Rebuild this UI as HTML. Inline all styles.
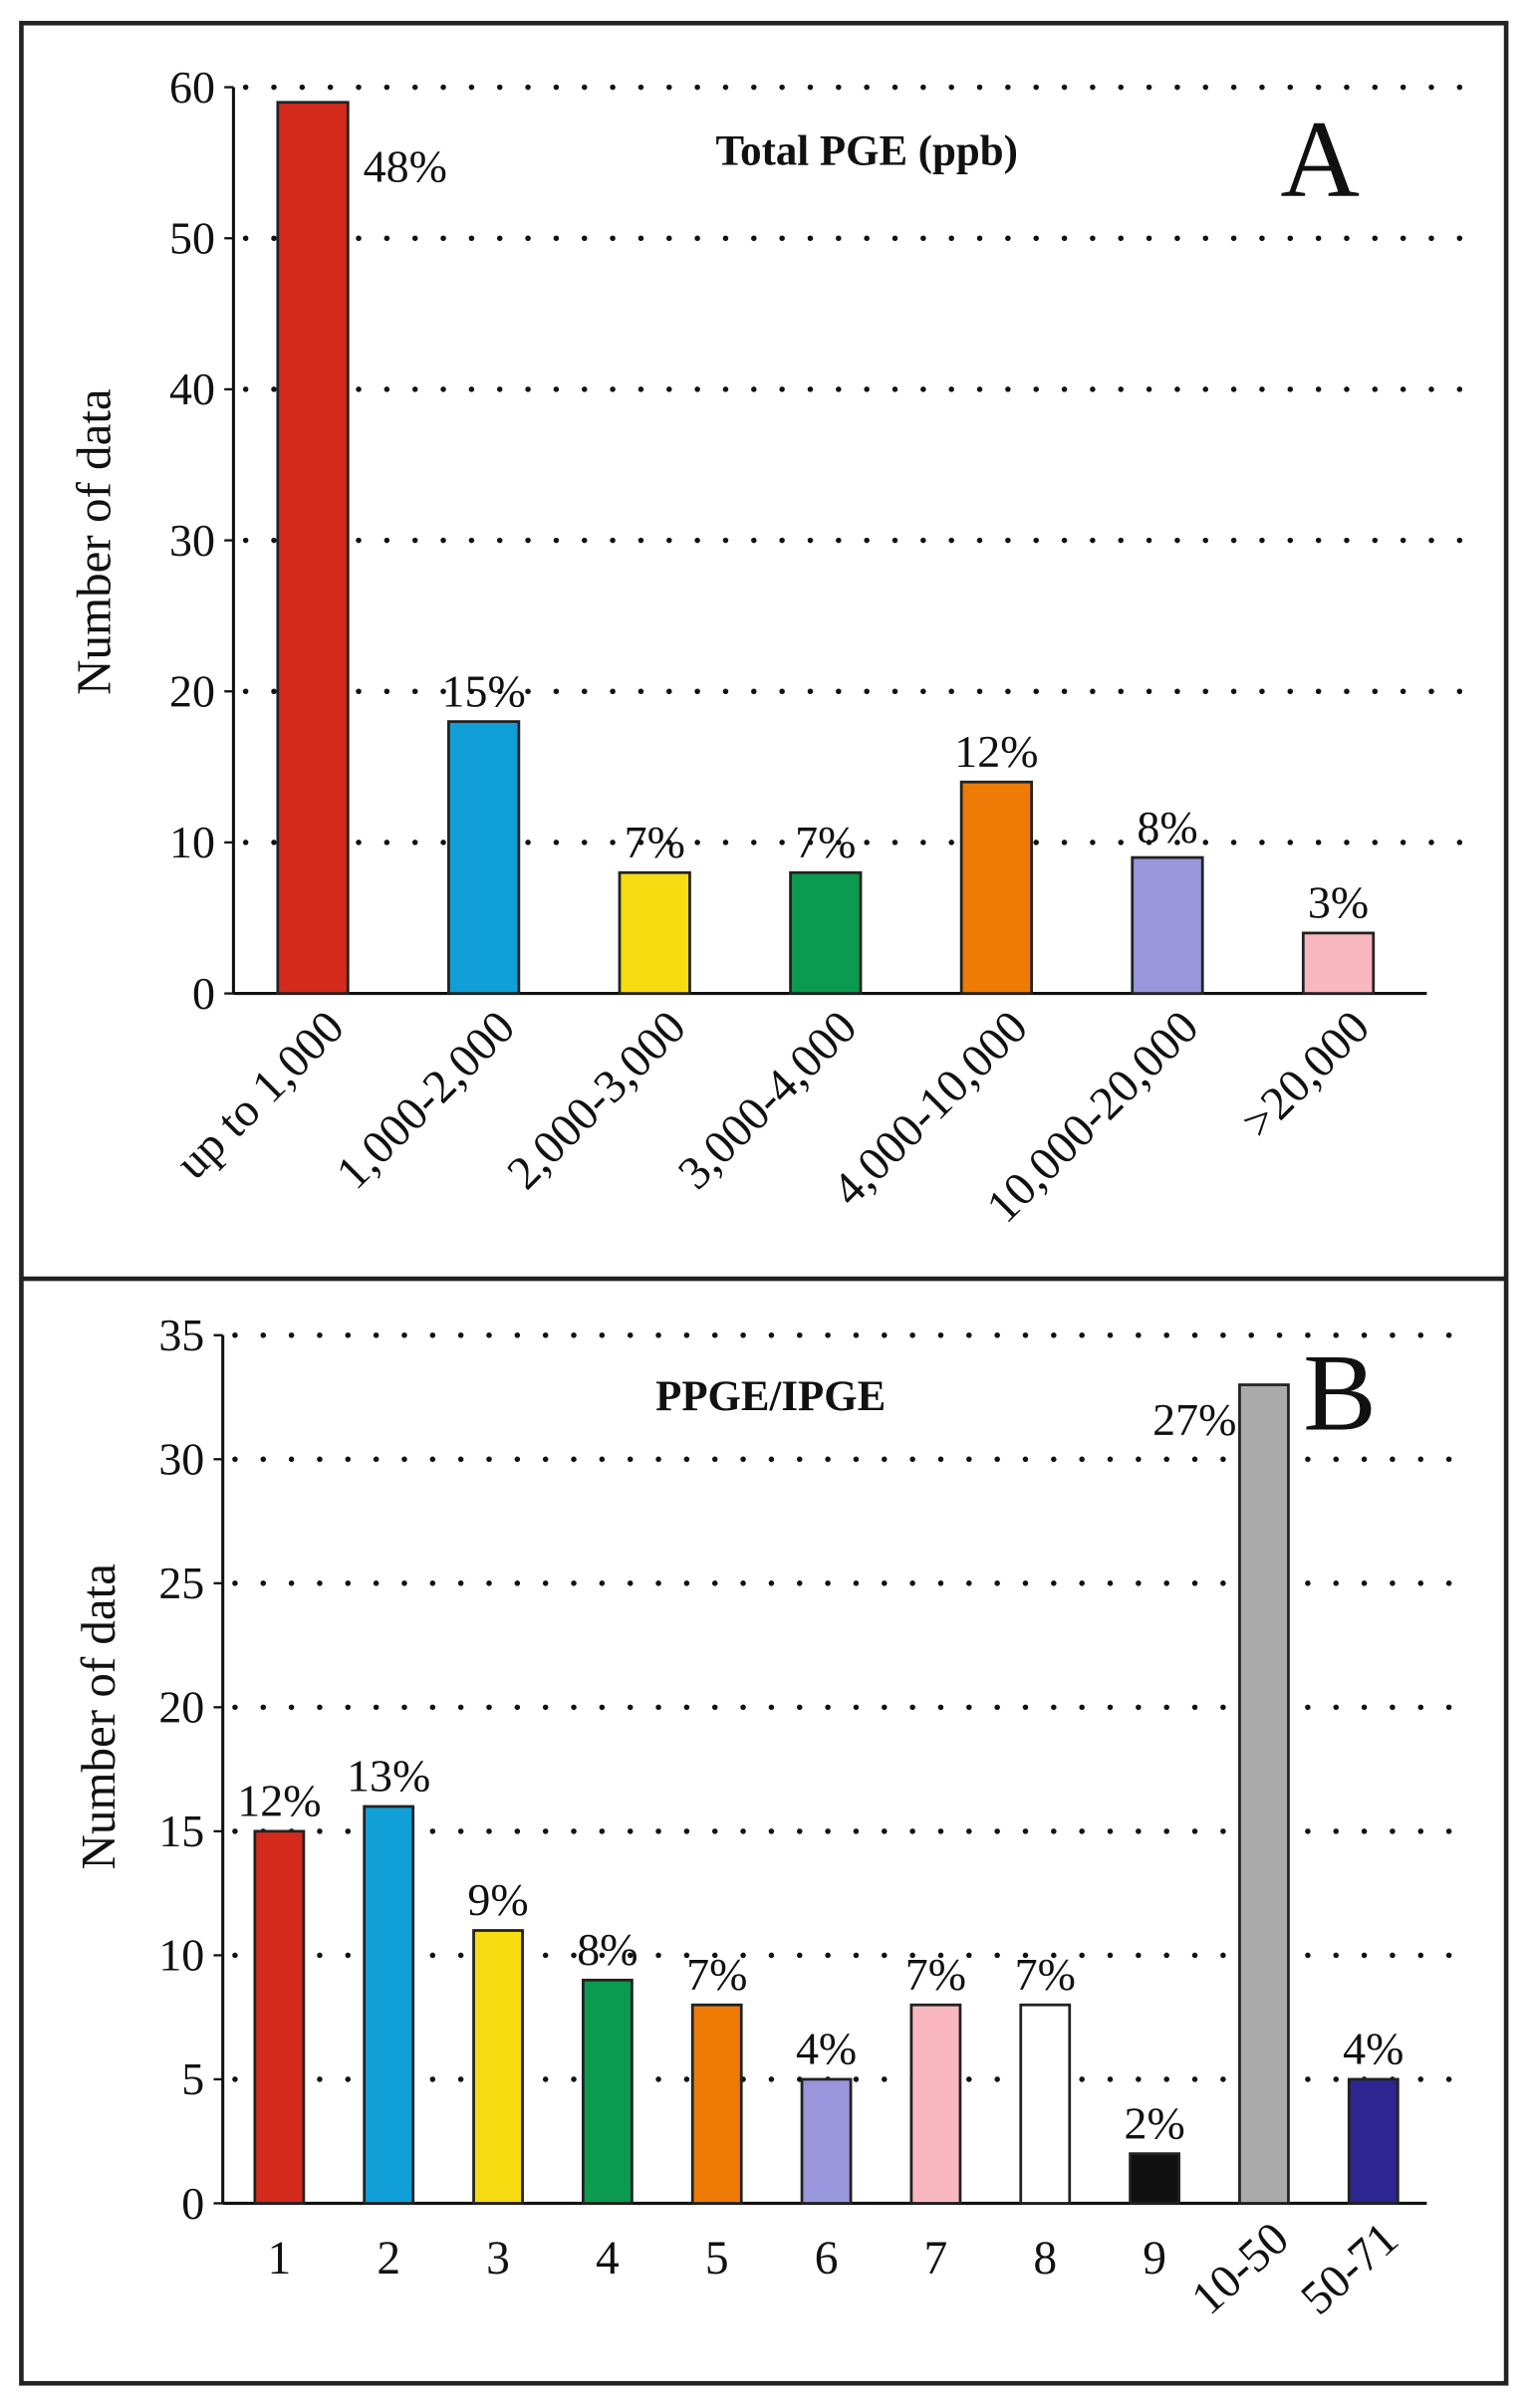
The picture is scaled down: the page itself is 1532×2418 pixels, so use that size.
<!DOCTYPE html>
<html><head><meta charset="utf-8"><style>
html,body{margin:0;padding:0;background:#fff;}
svg{display:block;font-family:"Liberation Serif",serif;}
</style></head><body>
<svg id="fig" width="1532" height="2418" viewBox="0 0 1000 1578" xmlns="http://www.w3.org/2000/svg">
<rect x="0" y="0" width="1000" height="1578" fill="#fff"/>
<rect x="14" y="15" width="973" height="1547" fill="none" stroke="#222" stroke-width="3"/>
<line x1="14" y1="838" x2="987" y2="838" stroke="#222" stroke-width="3"/>
<g id="chartA"></g>
<g id="chartB"></g>
</svg>
<script>
const catsA = ["up to 1,000","1,000-2,000","2,000-3,000","3,000-4,000","4,000-10,000","10,000-20,000",">20,000"];
const valsA = [59,18,8,8,14,9,4];
const pctA = ["48%","15%","7%","7%","12%","8%","3%"];
const colorsA = ["#d42a1c","#109fd6","#f7dc12","#0a9a50","#ee7b06","#9a96dc","#f9b8c0"];
const ticksA = [0,10,20,30,40,50,60];

const catsB = ["1","2","3","4","5","6","7","8","9","10-50","50-71"];
const valsB = [15,16,11,9,8,5,8,8,2,33,5];
const pctB = ["12%","13%","9%","8%","7%","4%","7%","7%","2%","27%","4%"];
const colorsB = ["#d42a1c","#109fd6","#f7dc12","#0a9a50","#ee7b06","#9a96dc","#f9b8c0","#ffffff","#111111","#aaaaaa","#2e2590"];
const ticksB = [0,5,10,15,20,25,30,35];

const NS="http://www.w3.org/2000/svg";
function mk(parent,tag,attrs,text){const e=document.createElementNS(NS,tag);for(const k in attrs)e.setAttribute(k,attrs[k]);if(text!==undefined)e.textContent=text;parent.appendChild(e);return e;}

function drawChart(g,cfg){
  const {cats,vals,pct,colors,ticks,x0,x1,gridEnd,yTop,yBot,yMax,first,step,barW} = cfg;
  const y=v=>yBot-(v/yMax)*(yBot-yTop);
  const xc=i=>first+i*step;
  ticks.forEach(t=>{
    if(t>0){const gl=mk(g,'line',{x1:x0+8,y1:y(t),x2:gridEnd,y2:y(t),stroke:'#111','stroke-width':3.6,'stroke-dasharray':'0 18.5','stroke-linecap':'round'});
    
    }
    const tk=mk(g,'line',{x1:x0-6,y1:y(t),x2:x0,y2:y(t),stroke:'#111','stroke-width':1.5});
    
    
    const tl=mk(g,'text',{x:x0-12,y:y(t)+10,'text-anchor':'end','font-size':30,fill:'#111'},String(t));
    
    
  });
  const ya=mk(g,'line',{x1:x0,y1:yTop,x2:x0,y2:yBot,stroke:'#111','stroke-width':2});
  
  
  const xa=mk(g,'line',{x1:x0,y1:yBot,x2:x1,y2:yBot,stroke:'#111','stroke-width':2});
  
  
  vals.forEach((v,i)=>{
    const b=mk(g,'rect',{x:xc(i)-barW/2,y:y(v),width:barW,height:yBot-y(v),fill:colors[i],stroke:'#222','stroke-width':1.8});
    
    
    let lx=xc(i),ly=y(v)-10,anc='middle';
    if(cfg.sideLabel[i]==='right'){lx=xc(i)+barW/2+10;ly=y(v)+52;anc='start';}
    if(cfg.sideLabel[i]==='left'){lx=xc(i)-barW/2-2;ly=y(v)+33;anc='end';}
    const pl=mk(g,'text',{x:lx,y:ly,'text-anchor':anc,'font-size':30,fill:'#111'},pct[i]);
    
    
    const r=cfg.rot[i];
    let cl;
    if(r===0){cl=mk(g,'text',{x:xc(i),y:yBot+46,'text-anchor':'middle','font-size':31,fill:'#111'},cats[i]);}
    else{const ax=xc(i)+cfg.labelDx,ay=yBot+cfg.labelDy;
      cl=mk(g,'text',{x:ax,y:ay,'text-anchor':'end','font-size':31,fill:'#111',transform:`rotate(${r} ${ax} ${ay})`},cats[i]);}
    
    
  });
}

const gA=document.getElementById('chartA');
drawChart(gA,{cats:catsA,vals:valsA,pct:pctA,colors:colorsA,ticks:ticksA,x0:153,x1:935,gridEnd:962,yTop:57,yBot:651,yMax:60,first:205,step:112,barW:46,
  sideLabel:['right','','','','','',''],rot:[-45,-45,-45,-45,-45,-45,-45],labelDx:22,labelDy:24});
const gB=document.getElementById('chartB');
drawChart(gB,{cats:catsB,vals:valsB,pct:pctB,colors:colorsB,ticks:ticksB,x0:146,x1:935,gridEnd:962,yTop:875,yBot:1444,yMax:35,first:183,step:71.7,barW:32,
  sideLabel:['','','','','','','','','','left',''],rot:[0,0,0,0,0,0,0,0,0,-42,-42],labelDx:18,labelDy:26});

function txt(g,attrs,s,name){const t=mk(g,'text',attrs,s);}
txt(gA,{x:568,y:108,'text-anchor':'middle','font-size':28,'font-weight':'bold',fill:'#111'},'Total PGE (ppb)','chart-a-title');
txt(gA,{x:865,y:128,'text-anchor':'middle','font-size':72,fill:'#111'},'A','panel-a-letter');
txt(gA,{x:72,y:355,'text-anchor':'middle','font-size':32,fill:'#111',transform:'rotate(-90 72 355)'},'Number of data','y-axis-title-a');
txt(gB,{x:505,y:924,'text-anchor':'middle','font-size':28,'font-weight':'bold',fill:'#111'},'PPGE/IPGE','chart-b-title');
txt(gB,{x:878,y:937,'text-anchor':'middle','font-size':72,fill:'#111'},'B','panel-b-letter');
txt(gB,{x:75,y:1125,'text-anchor':'middle','font-size':32,fill:'#111',transform:'rotate(-90 75 1125)'},'Number of data','y-axis-title-b');
</script>
</body></html>
